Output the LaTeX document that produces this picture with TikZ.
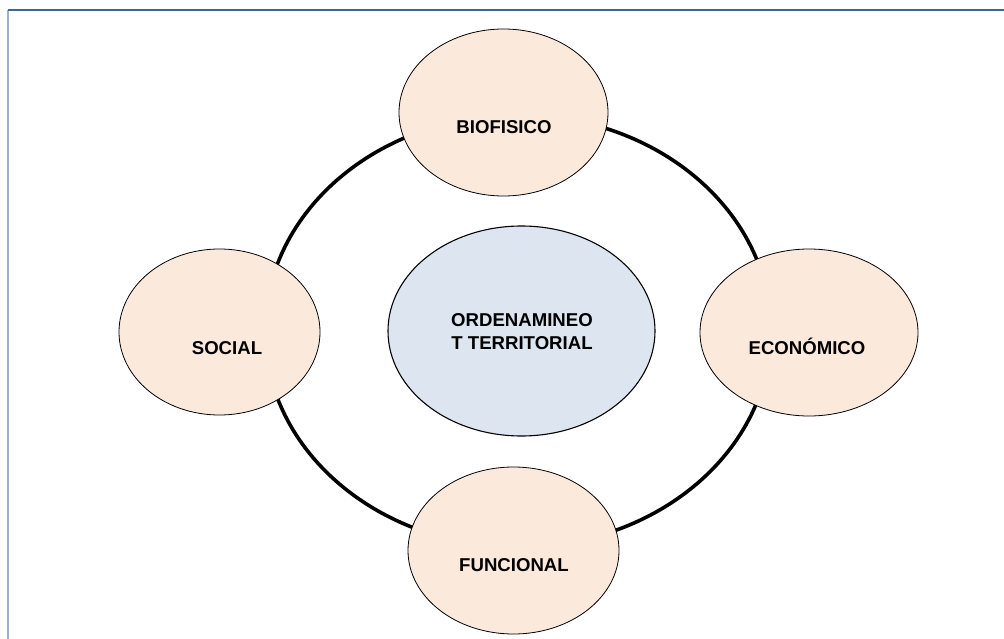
\documentclass[tikz,border=0pt]{standalone}
\usepackage{fontspec}
\setmainfont{Liberation Sans}
\usetikzlibrary{shapes.geometric}
\definecolor{peach}{HTML}{FBE9DB}
\definecolor{paleblue}{HTML}{DCE5F0}
\definecolor{frametop}{HTML}{3A6797}
\definecolor{frameleft}{HTML}{9AB0CB}
\tikzset{
  petal/.style={ellipse, draw=black, line width=0.8pt, fill=peach, inner sep=0pt},
  core/.style={ellipse, draw=black, line width=1.1pt, fill=paleblue, inner sep=0pt},
  lbl/.style={inner sep=0pt, align=center, font=\bfseries\fontsize{18.6}{23.5}\selectfont},
  ring/.style={draw=black, line width=3.6pt}
}
\begin{document}
\begin{tikzpicture}[x=1pt,y=-1pt]
\useasboundingbox (0,0) rectangle (1004,639);
% frame
\draw[frameleft, line width=1.6pt] (8,10) -- (8,639);
\draw[frametop, line width=1.2pt] (8,10) -- (1004,10);
% ring
\draw[ring] (518,331) ellipse [x radius=253, y radius=216];
% ellipses
\node[core, minimum width=267pt, minimum height=210pt] (core) at (521.5,331) {};
\node[petal, minimum width=209pt, minimum height=167pt] (bio) at (503.5,112.5) {};
\node[petal, minimum width=218pt, minimum height=167pt] (eco) at (809,332.5) {};
\node[petal, minimum width=211pt, minimum height=167pt] (fun) at (513.5,550.5) {};
\node[petal, minimum width=201pt, minimum height=166pt] (soc) at (219.5,332) {};
% labels
\node[lbl] (coreT) at (522,331.5) {ORDENAMINEO\\T TERRITORIAL};
\node[lbl] (bioT) at (504,127) {BIOFISICO};
\node[lbl] (ecoT) at (807,346) {ECONÓMICO};
\node[lbl] (funT) at (514,565) {FUNCIONAL};
\node[lbl] (socT) at (227,348) {SOCIAL};
\end{tikzpicture}
\end{document}
